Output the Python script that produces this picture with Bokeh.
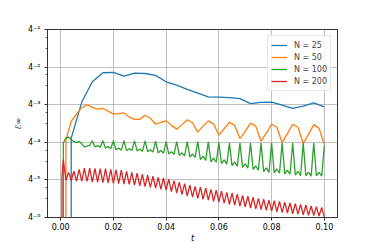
import numpy as np
from bokeh.plotting import figure
from bokeh.models import (Range1d, FixedTicker, CustomJSTickFormatter,
                          PrintfTickFormatter)
from bokeh.embed import file_html
from bokeh.resources import INLINE

T_END = 0.1
SERIES_LABELS = ["N = 25", "N = 50", "N = 100", "N = 200"]
COLORS = ["#1f77b4", "#ff7f0e", "#2ca02c", "#d62728"]
X_TICKS = [0.0, 0.02, 0.04, 0.06, 0.08, 0.10]
Y_TICK_EXP = [-6, -5, -4, -3, -2, -1]

# log4(E_inf) sampled uniformly on [0, 0.1]; the t=0 sample is exactly zero (None)
N25_LOG4 = [None, -3.89, -2.93, -2.39, -2.15, -2.14, -2.24, -2.16, -2.17, -2.22,
            -2.39, -2.48, -2.59, -2.69, -2.79, -2.80, -2.81, -2.84, -2.97, -2.94,
            -2.93, -3.01, -3.10, -3.04, -2.95, -3.06]

N50_LOG4 = [None, -3.94, -3.44, -3.25, -3.08, -3.00, -3.07, -3.12, -3.10, -3.17,
            -3.25, -3.24, -3.22, -3.33, -3.39, -3.39, -3.28, -3.36, -3.52, -3.47,
            -3.43, -3.55, -3.65, -3.53, -3.40, -3.48, -3.73, -3.57, -3.43, -3.51,
            -3.81, -3.64, -3.47, -3.55, -3.90, -3.71, -3.49, -3.57, -3.97, -3.75,
            -3.52, -3.60, -4.01, -3.77, -3.52, -3.60, -4.03, -3.79, -3.53, -3.63,
            -4.05]

N100_LOG4 = [None, -4.02, -3.88, -3.86, -3.93, -3.98, -4.01, -3.98, -4.04, -4.12,
             -4.10, -4.08,
             -3.96, -4.12, -4.09, -4.13,
             -3.96, -4.15, -4.11, -4.17,
             -3.96, -4.20, -4.15, -4.21,
             -3.96, -4.22, -4.17, -4.22,
             -3.96, -4.23, -4.18, -4.24,
             -3.96, -4.25, -4.20, -4.26,
             -3.97, -4.28, -4.22, -4.29,
             -3.98, -4.31, -4.25, -4.32,
             -3.98, -4.35, -4.28, -4.36,
             -3.98, -4.39, -4.31, -4.40,
             -3.98, -4.46, -4.37, -4.48,
             -3.99, -4.52, -4.42, -4.53,
             -4.00, -4.57, -4.47, -4.58,
             -4.02, -4.62, -4.52, -4.64,
             -4.02, -4.67, -4.57, -4.69,
             -4.02, -4.72, -4.63, -4.74,
             -4.02, -4.78, -4.68, -4.80,
             -4.02, -4.81, -4.71, -4.82,
             -4.02, -4.84, -4.74, -4.85,
             -4.02, -4.87, -4.77, -4.89,
             -4.02, -4.89, -4.79, -4.90,
             -4.02, -4.89, -4.80, -4.90,
             -4.08]

N200_LOG4 = [None, -4.90, -4.46, -4.74,
             -5.01, -4.90, -4.80, -4.90,
             -5.02, -4.89, -4.77, -4.90,
             -5.03, -4.87, -4.72, -4.88,
             -5.03, -4.86, -4.69, -4.87,
             -5.04, -4.87, -4.69, -4.87,
             -5.06, -4.88, -4.69, -4.88,
             -5.06, -4.88, -4.70, -4.89,
             -5.07, -4.89, -4.70, -4.89,
             -5.08, -4.90, -4.72, -4.91,
             -5.09, -4.91, -4.73, -4.92,
             -5.10, -4.92, -4.74, -4.93,
             -5.11, -4.94, -4.77, -4.95,
             -5.12, -4.96, -4.80, -4.97,
             -5.14, -4.98, -4.82, -4.99,
             -5.16, -5.00, -4.85, -5.02,
             -5.18, -5.03, -4.87, -5.04,
             -5.20, -5.05, -4.90, -5.06,
             -5.22, -5.08, -4.93, -5.09,
             -5.25, -5.10, -4.95, -5.11,
             -5.27, -5.12, -4.98, -5.15,
             -5.31, -5.16, -5.02, -5.18,
             -5.35, -5.20, -5.06, -5.22,
             -5.39, -5.24, -5.10, -5.26,
             -5.43, -5.28, -5.14, -5.30,
             -5.46, -5.31, -5.17, -5.33,
             -5.49, -5.34, -5.19, -5.35,
             -5.52, -5.37, -5.22, -5.38,
             -5.54, -5.39, -5.25, -5.40,
             -5.57, -5.42, -5.27, -5.43,
             -5.59, -5.44, -5.30, -5.46,
             -5.62, -5.47, -5.33, -5.49,
             -5.65, -5.50, -5.35, -5.51,
             -5.67, -5.52, -5.38, -5.54,
             -5.70, -5.55, -5.41, -5.57,
             -5.72, -5.57, -5.43, -5.59,
             -5.75, -5.60, -5.46, -5.62,
             -5.77, -5.63, -5.49, -5.64,
             -5.79, -5.65, -5.51, -5.66,
             -5.81, -5.67, -5.54, -5.68,
             -5.83, -5.69, -5.55, -5.70,
             -5.85, -5.71, -5.57, -5.72,
             -5.87, -5.73, -5.59, -5.73,
             -5.88, -5.74, -5.61, -5.75,
             -5.90, -5.76, -5.63, -5.77,
             -5.91, -5.78, -5.65, -5.79,
             -5.93, -5.80, -5.67, -5.81,
             -5.94, -5.82, -5.69, -5.82,
             -5.95, -5.83, -5.71, -5.84,
             -5.96, -5.85, -5.73, -5.86,
             -5.98]

SERIES = [N25_LOG4, N50_LOG4, N100_LOG4, N200_LOG4]


def to_values(log4):
    return np.array([0.0 if e is None else 4.0 ** e for e in log4])


FONT = "DejaVu Sans"

p = figure(width=374, height=249, output_backend="svg", toolbar_location=None,
           y_axis_type="log",
           x_range=Range1d(-0.005, 0.105), y_range=Range1d(4.0 ** -6, 4.0 ** -1),
           min_border_left=47, min_border_right=37, min_border_top=29,
           min_border_bottom=32)

p.outline_line_color = "black"
p.outline_line_width = 0.8
p.background_fill_color = "white"
p.border_fill_color = "white"

for log4, color, lab in zip(SERIES, COLORS, SERIES_LABELS):
    vals = to_values(log4)
    t = np.linspace(0.0, T_END, len(vals))
    # non-positive values are clipped to a tiny number, as on a log axis
    y = np.maximum(vals, 1e-300)
    p.line(t, y, line_color=color, line_width=1.3, legend_label=lab)

# axes
xa = p.xaxis[0]
xa.ticker = FixedTicker(ticks=X_TICKS)
xa.formatter = PrintfTickFormatter(format="%.2f")
ya = p.yaxis[0]
ya.ticker = FixedTicker(ticks=[4.0 ** e for e in Y_TICK_EXP],
                        minor_ticks=[m * 4.0 ** e for e in Y_TICK_EXP[:-1] for m in (2, 3)])
ya.formatter = CustomJSTickFormatter(code="""
const e = Math.round(Math.log(tick) / Math.log(4));
const sup = {'-': '\u207b', '0': '\u2070', '1': '\u00b9', '2': '\u00b2', '3': '\u00b3',
             '4': '\u2074', '5': '\u2075', '6': '\u2076', '7': '\u2077', '8': '\u2078', '9': '\u2079'};
return '4' + String(e).split('').map(c => sup[c]).join('');
""")

for ax in (xa, ya):
    ax.axis_line_color = None
    ax.major_tick_line_color = "black"
    ax.major_tick_line_width = 0.8
    ax.major_tick_out = 3
    ax.major_tick_in = 0
    ax.minor_tick_line_color = "black"
    ax.minor_tick_line_width = 0.6
    ax.minor_tick_out = 2
    ax.minor_tick_in = 0
    ax.major_label_text_font = FONT
    ax.major_label_text_font_size = "8px"
    ax.major_label_text_color = "black"
    ax.axis_label_text_font = FONT
    ax.axis_label_text_font_size = "8px"
    ax.axis_label_text_color = "black"
xa.minor_tick_line_color = None
xa.major_label_standoff = 2
ya.major_label_standoff = 4

xa.axis_label = "t"
xa.axis_label_text_font_style = "italic"
xa.axis_label_standoff = 1

ya.axis_label = "\u2130\u221e"
ya.axis_label_text_font_style = "normal"
ya.axis_label_standoff = 2

for g in (p.xgrid[0], p.ygrid[0]):
    g.grid_line_color = "#b0b0b0"
    g.grid_line_width = 0.8
p.xgrid[0].ticker = xa.ticker
p.ygrid[0].ticker = ya.ticker

lg = p.legend[0]
lg.location = "top_right"
lg.margin = 6
lg.padding = 3
lg.spacing = 0
lg.label_height = 12
lg.glyph_height = 12
lg.glyph_width = 16
lg.label_standoff = 7
lg.label_text_font = FONT
lg.label_text_font_size = "8px"
lg.border_line_color = "#cccccc"
lg.border_line_width = 0.8
lg.background_fill_alpha = 0.8

open("out.html", "w").write(file_html(p, INLINE))
